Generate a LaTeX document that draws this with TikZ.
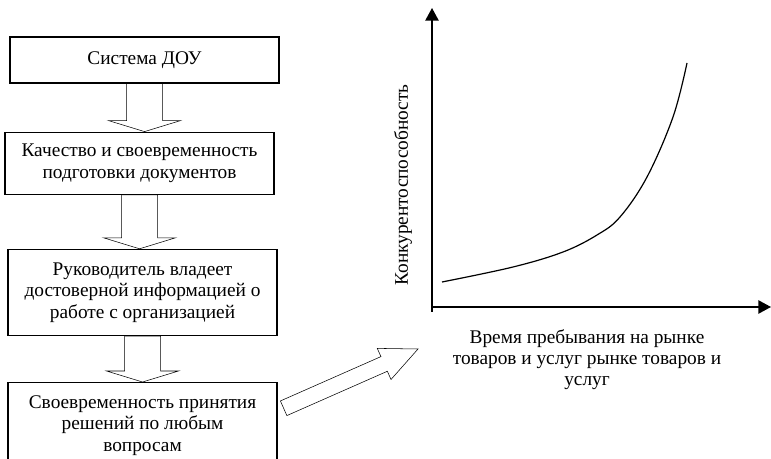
\documentclass[tikz,border=0pt]{standalone}
\usepackage{fontspec}
\setmainfont{Liberation Serif}
\usetikzlibrary{arrows.meta,positioning,calc}

\tikzset{
  box/.style={draw, line width=0.9pt, minimum width=201.75pt, align=center, inner sep=2pt},
  fat/.style n args={3}{line width=0.9pt, to path={
      let \p1=($(\tikztotarget)-(\tikztostart)$), \n1={atan2(\y1,\x1)}, \n2={veclen(\x1,\y1)} in
      {[shift={(\tikztostart)}, rotate=\n1]
        (0pt,#1) -- (\n2-#3,#1) -- (\n2-#3,#2) -- (\n2,0pt)
        -- (\n2-#3,-#2) -- (\n2-#3,-#1) -- (0pt,-#1) -- cycle}}},
  axis/.style={line width=1.1pt, -{Triangle[length=9.5pt,width=10pt]}}
}

\begin{document}
\begin{tikzpicture}[x=1pt, y=1pt, font=\fontsize{14.5}{16}\selectfont]
  \useasboundingbox (0,0) rectangle (578.25,-344.25);

  % left chain
  \node[box, minimum height=34.5pt] (b1) at (108.4,-45) {Система ДОУ};
  \node[box, minimum height=46.5pt, below=36pt of b1, xshift=-3.75pt] (b2)
    {Качество и своевременность\\подготовки документов};
  \node[box, minimum height=64.5pt, below=40.5pt of b2, xshift=2.25pt] (b3)
    {Руководитель владеет\\достоверной информацией о\\работе с организацией};
  \node[box, minimum height=64.5pt, below=34.5pt of b3] (b4)
    {Своевременность принятия\\решений по любым\\вопросам};

  \draw (b1.south) to[fat={13.5pt}{27pt}{8.25pt}] (b1.south |- b2.north);
  \draw (b2.south) to[fat={13.5pt}{27pt}{8.25pt}] (b2.south |- b3.north);
  \draw (b3.south) to[fat={13.5pt}{27pt}{8.25pt}] (b3.south |- b4.north);

  \coordinate (tail) at ([xshift=4.5pt,yshift=13pt]b4.east);
  \coordinate (tip) at (313.5,-261.75);
  \draw (tail) to[fat={6pt}{12.75pt}{27.75pt}] (tip);

  % graph
  \coordinate (O) at (324,-230.25);
  \coordinate (ytop) at (324,-6);
  \coordinate (xend) at (578.25,-230.25);
  \draw[axis] ([yshift=-3.75pt]O) -- (ytop);
  \draw[axis] (O) -- (xend);
  \draw[line width=0.9pt] plot[smooth, tension=0.6] coordinates
    {(331.5,-211.5) (384.75,-200.25) (422.25,-189) (447.75,-176.25)
     (465,-162.75) (485.25,-132.75) (504.75,-87.75) (515.25,-47.25)};

  \node[rotate=90] (ylab) at (302.25,-138.75) {Конкурентоспособность};
  \node[align=center, font=\fontsize{14.5}{15.75}\selectfont] (xlab) at (440.25,-270)
    {Время пребывания на рынке\\товаров и услуг рынке товаров и\\услуг};
\end{tikzpicture}
\end{document}
